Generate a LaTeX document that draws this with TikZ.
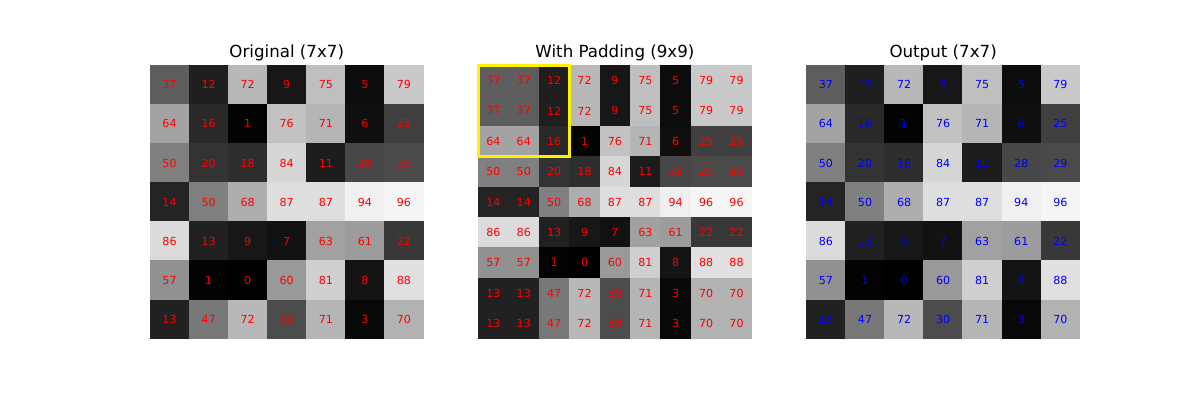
\documentclass[tikz,border=0pt]{standalone}
\usepackage{fontspec}
\setmainfont{DejaVu Sans}
\begin{document}
\begin{tikzpicture}[x=1pt,y=-1pt,
  cellA/.style={minimum size=39.47pt,inner sep=0pt,outer sep=0pt,font=\fontsize{11.11}{13}\selectfont},
  cellB/.style={minimum size=30.79pt,inner sep=0pt,outer sep=0pt,font=\fontsize{11.11}{13}\selectfont},
  ttl/.style={anchor=base,inner sep=0pt,font=\fontsize{16.67}{20}\selectfont},
  winbox/.style={draw=yellow,line width=2.78pt}]
\useasboundingbox[fill=white] (0,0) rectangle (1200,400);
\def\orig{{37,12,72,9,75,5,79},{64,16,1,76,71,6,25},{50,20,18,84,11,28,29},{14,50,68,87,87,94,96},{86,13,9,7,63,61,22},{57,1,0,60,81,8,88},{13,47,72,30,71,3,70}}
\def\padded{{37,37,12,72,9,75,5,79,79},{37,37,12,72,9,75,5,79,79},{64,64,16,1,76,71,6,25,25},{50,50,20,18,84,11,28,29,29},{14,14,50,68,87,87,94,96,96},{86,86,13,9,7,63,61,22,22},{57,57,1,0,60,81,8,88,88},{13,13,47,72,30,71,3,70,70},{13,13,47,72,30,71,3,70,70}}
% Original
\foreach \row [count=\r] in \orig {
  \foreach \v [count=\c] in \row {
    \node[cellA,fill=white!\v!black,text=red] (a-\r-\c) at ({150+(\c-0.5)*39.071},{65.3+(\r-0.5)*39.071}) {\v};
  }
}
% Padded
\foreach \row [count=\r] in \padded {
  \foreach \v [count=\c] in \row {
    \node[cellB,fill=white!\v!black,text=red] (p-\r-\c) at ({478.2+(\c-0.5)*30.389},{65.3+(\r-0.5)*30.389}) {\v};
  }
}
% Output
\foreach \row [count=\r] in \orig {
  \foreach \v [count=\c] in \row {
    \node[cellA,fill=white!\v!black,text=blue] (o-\r-\c) at ({806.4+(\c-0.5)*39.071},{65.3+(\r-0.5)*39.071}) {\v};
  }
}
\draw[winbox] ([shift={(0.2pt,-0.2pt)}]p-1-1.north west) rectangle ([shift={(-0.2pt,0.2pt)}]p-3-3.south east);
\node[ttl] (t1) at (286.75,57) {Original (7x7)};
\node[ttl] (t2) at (614.95,57) {With Padding (9x9)};
\node[ttl] (t3) at (943.15,57) {Output (7x7)};
\end{tikzpicture}
\end{document}
